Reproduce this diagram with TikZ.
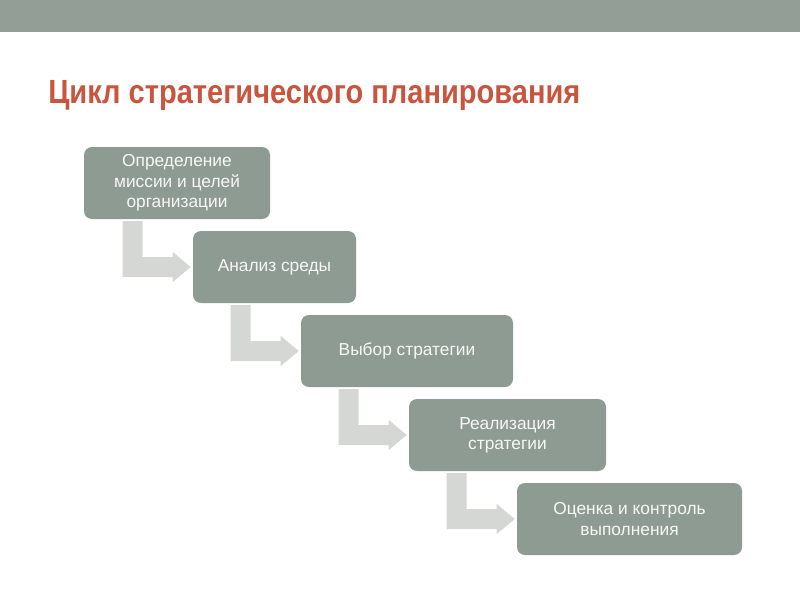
\documentclass[tikz,border=0pt]{standalone}
\usepackage{fontspec}
\setmainfont{Liberation Sans}
\usetikzlibrary{calc}
\pgfdeclarelayer{background}
\pgfsetlayers{background,main}
\definecolor{barcol}{HTML}{939F96}
\definecolor{boxcol}{HTML}{8E9B92}
\definecolor{arrcol}{HTML}{D5D7D4}
\definecolor{titlecol}{HTML}{C9553F}
\definecolor{txtcol}{HTML}{F7F7F7}
\tikzset{
  stagebox/.style={fill=boxcol, draw=none, rounded corners=6pt, minimum height=54pt,
    text=txtcol, align=center, font=\fontsize{13}{15.2}\selectfont, inner sep=2pt},
  bentarrow/.style={fill=arrcol, draw=none}
}
\newcommand{\bentarr}[1]{%
  \fill[bentarrow] ($(#1.west)+(-2,0)$) coordinate (T)
    ($(T)+(-68,-46)$) -- ($(T)+(-48,-46)$) -- ($(T)+(-48,-10)$) -- ($(T)+(-18,-10)$)
    -- ($(T)+(-18,-15)$) -- (T) -- ($(T)+(-18,15)$) -- ($(T)+(-18,10)$)
    -- ($(T)+(-68,10)$) -- cycle;}
\begin{document}
\begin{tikzpicture}[x=0.75pt,y=-0.75pt]
\useasboundingbox (0,0) rectangle (800,600);
\begin{pgfonlayer}{background}
\fill[white] (0,0) rectangle (800,600);
\end{pgfonlayer}
\fill[barcol] (0,0) rectangle (800,32);
\node[anchor=base west, inner sep=0pt, text=titlecol] (title) at (48,103)
  {\resizebox{399pt}{17.3pt}{\bfseries Цикл стратегического планирования}};
\node[stagebox, minimum width=139.5pt] (b1) at (177,183) {Определение\\миссии и целей\\организации};
\node[stagebox, minimum width=122.25pt] (b2) at (274.5,267) {Анализ среды};
\node[stagebox, minimum width=159pt] (b3) at (407,351) {Выбор стратегии};
\node[stagebox, minimum width=147.75pt] (b4) at (507.5,435) {Реализация\\стратегии};
\node[stagebox, minimum width=168.75pt] (b5) at (629.5,519) {Оценка и контроль\\выполнения};
\begin{pgfonlayer}{background}
\bentarr{b2}
\bentarr{b3}
\bentarr{b4}
\bentarr{b5}
\end{pgfonlayer}
\end{tikzpicture}
\end{document}
